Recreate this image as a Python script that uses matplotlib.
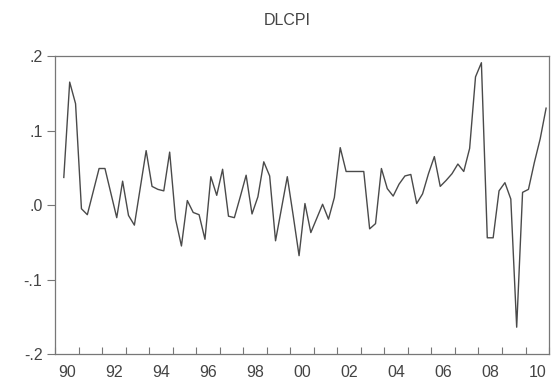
import numpy as np
import pandas as pd
import matplotlib
matplotlib.use("Agg")
import matplotlib.pyplot as plt

plt.rcParams['font.family'] = ['Liberation Sans', 'DejaVu Sans']

# quarterly sample 1990Q1 - 2010Q4, first obs is NA (log difference)
quarters = pd.period_range("1990Q1", "2010Q4", freq="Q")
dlcpi = [np.nan, 0.037, 0.165, 0.136, -0.005, -0.013, 0.018, 0.049,
         0.049, 0.016, -0.017, 0.032, -0.014, -0.027, 0.023, 0.073,
         0.025, 0.021, 0.019, 0.071, -0.019, -0.055, 0.006, -0.010,
         -0.013, -0.046, 0.038, 0.013, 0.048, -0.015, -0.017, 0.011,
         0.040, -0.012, 0.011, 0.058, 0.039, -0.048, -0.005, 0.038,
         -0.014, -0.068, 0.002, -0.037, -0.018, 0.001, -0.019, 0.010,
         0.077, 0.045, 0.045, 0.045, 0.045, -0.032, -0.025, 0.049,
         0.022, 0.012, 0.028, 0.039, 0.041, 0.002, 0.015, 0.042,
         0.065, 0.025, 0.033, 0.042, 0.055, 0.045, 0.076, 0.172,
         0.191, -0.044, -0.044, 0.019, 0.030, 0.008, -0.164, 0.017,
         0.021, 0.057, 0.089, 0.130]
year_labels = ["90", "92", "94", "96", "98", "00", "02", "04", "06", "08", "10"]
ytick_vals = [-0.2, -0.1, 0.0, 0.1, 0.2]
ytick_labels = ["-.2", "-.1", ".0", ".1", ".2"]

# each observation sits in the middle of its quarter slot
x = quarters.year + (quarters.quarter - 0.5) / 4

fig = plt.figure(figsize=(5.57, 3.85), dpi=100)
ax = fig.add_axes([0.0987, 0.0805, 0.887, 0.774])

ax.plot(x, dlcpi, color="#4a4a4a", linewidth=1.0)

ax.set_xlim(1990, 2011)
ax.set_ylim(-0.2, 0.2)

# year boundary ticks (inward), labels centred on even years
ax.set_xticks(np.arange(1990, 2012))
ax.set_xticklabels([])
ax.set_xticks([1990.5 + 2 * i for i in range(len(year_labels))], minor=True)
ax.set_xticklabels(year_labels, minor=True)
ax.tick_params(axis="x", which="major", direction="in", length=5,
               width=0.8, color="#777777")
ax.tick_params(axis="x", which="minor", length=0, pad=8,
               labelsize=11.5, labelcolor="#444444")

ax.set_yticks(ytick_vals)
ax.set_yticklabels(ytick_labels)
ax.tick_params(axis="y", direction="out", length=6, width=0.8,
               color="#777777", pad=3, labelsize=11.5, labelcolor="#444444")

for s in ax.spines.values():
    s.set_color("#777777")
    s.set_linewidth(0.9)

fig.text(0.516, 0.948, "DLCPI", ha="center", va="center",
         fontsize=11.5, color="#444444")

fig.savefig("out.png", dpi=100)
